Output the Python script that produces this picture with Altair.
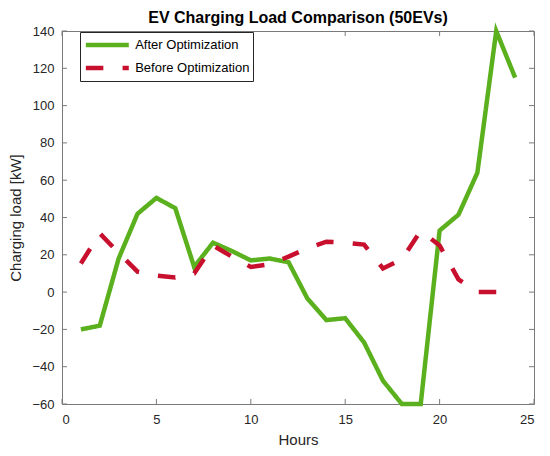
import math
import altair as alt
import pandas as pd

hours = list(range(1, 25))
after_opt = [-20, -18, 18, 42, 50.5, 45, 13.5, 26.5, 22, 17, 18, 16,
             -3.5, -15, -14, -27, -47.5, -60, -60, 33, 41.5, 64, 140, 115]
before_opt = [15.3, 31.5, 21, 11, 8.8, 7.8, 10, 25, 19, 13.5, 15, 19,
              23.5, 27, 26.5, 25.5, 12.7, 17.6, 32.8, 25, 6.8, 0, 0, 0]
series_names = ["After Optimization", "Before Optimization"]
x_ticks = [0, 5, 10, 15, 20, 25]
y_ticks = [-60, -40, -20, 0, 20, 40, 60, 80, 100, 120, 140]

W, H = 472, 373
TL = 5  # tick length

# dash pattern tuned so the pattern phase along the dashed line matches the reference
DASH = 17.5
px = [h * W / 25 for h in hours]
py = [(140 - v) * H / 200 for v in before_opt]
L = sum(math.hypot(px[i + 1] - px[i], py[i + 1] - py[i]) for i in range(len(px) - 1))
tail = W / 25  # last hour falls in a gap
n = max(1, round((L - tail - DASH) / 35.5))
GAP = (L - tail - DASH) / n - DASH

df = pd.DataFrame(
    {"Hours": hours * 2,
     "Load": after_opt + before_opt,
     "Series": [series_names[0]] * len(hours) + [series_names[1]] * len(hours)}
)
xt = pd.DataFrame({"t": x_ticks})
yt = pd.DataFrame({"t": y_ticks})

xscale = alt.Scale(domain=[0, 25], nice=False, zero=False)
yscale = alt.Scale(domain=[-60, 140], nice=False, zero=False)
xaxis = alt.Axis(values=x_ticks, title="Hours", format="d", labelOverlap=False)
yaxis = alt.Axis(values=y_ticks, title="Charging load [kW]", format="d", labelOverlap=False)

lines = alt.Chart(df).mark_line(strokeWidth=4.5, strokeCap="butt", strokeJoin="miter").encode(
    x=alt.X("Hours:Q", scale=xscale, axis=xaxis),
    y=alt.Y("Load:Q", scale=yscale, axis=yaxis),
    color=alt.Color("Series:N",
                    scale=alt.Scale(domain=series_names, range=["#5BB01E", "#C8102E"]),
                    legend=alt.Legend(title=None)),
    strokeDash=alt.StrokeDash("Series:N",
                              scale=alt.Scale(domain=series_names, range=[[1, 0], [DASH, GAP]]),
                              legend=alt.Legend(title=None)),
)

tick_color = "#7a7a7a"
xb = alt.Chart(xt).mark_rule(color=tick_color, strokeWidth=1).encode(
    x=alt.X("t:Q", scale=xscale, axis=xaxis), y=alt.value(H), y2=alt.value(H - TL))
xtp = alt.Chart(xt).mark_rule(color=tick_color, strokeWidth=1).encode(
    x=alt.X("t:Q", scale=xscale, axis=xaxis), y=alt.value(0), y2=alt.value(TL))
yl = alt.Chart(yt).mark_rule(color=tick_color, strokeWidth=1).encode(
    y=alt.Y("t:Q", scale=yscale, axis=yaxis), x=alt.value(0), x2=alt.value(TL))
yr = alt.Chart(yt).mark_rule(color=tick_color, strokeWidth=1).encode(
    y=alt.Y("t:Q", scale=yscale, axis=yaxis), x=alt.value(W), x2=alt.value(W - TL))

chart = alt.layer(lines, xb, xtp, yl, yr).properties(
    width=W, height=H,
    title=alt.TitleParams("EV Charging Load Comparison (50EVs)", fontSize=16,
                          fontWeight="bold", font="Liberation Sans", color="#000000",
                          anchor="middle", offset=9, frame="group", dy=13),
    autosize=alt.AutoSizeParams(type="none"),
    padding={"left": 54, "top": 23, "right": 8, "bottom": 44},
).configure_view(
    stroke=tick_color, strokeWidth=1
).configure_axis(
    grid=False, domain=False, ticks=False, labelOverlap=False,
    labelFont="Liberation Sans", labelFontSize=13, labelColor="#262626",
    titleFont="Liberation Sans", titleFontSize=15, titleColor="#262626",
    titleFontWeight="normal",
).configure_axisX(
    labelPadding=9, titlePadding=6
).configure_axisY(
    labelPadding=8, titlePadding=8
).configure_legend(
    orient="none", legendX=18, legendY=1,
    symbolType="M-1,0H5", symbolSize=205, symbolStrokeWidth=4.5,
    labelFont="Liberation Sans", labelFontSize=13, labelColor="#000000",
    labelOffset=32.7, rowPadding=4, padding=3.5,
    strokeColor="#262626", fillColor="#ffffff",
)

chart.save("out.html", embed_options={"renderer": "svg", "actions": False})
